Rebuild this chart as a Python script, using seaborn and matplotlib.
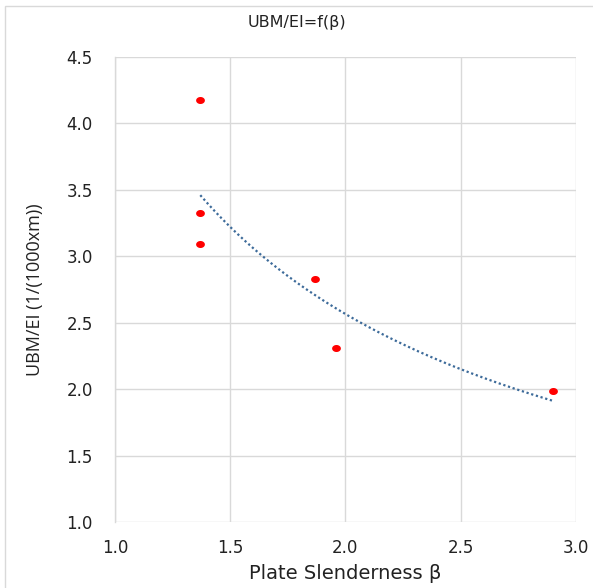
import numpy as np
import pandas as pd
import seaborn as sns
import matplotlib
matplotlib.use("Agg")
import matplotlib.pyplot as plt
from matplotlib.patches import Rectangle

beta = [1.37, 1.37, 1.37, 1.87, 1.96, 2.90]
ubm = [4.18, 3.33, 3.09, 2.83, 2.31, 1.99]
title = "UBM/EI=f(β)"
xlabel = "Plate Slenderness β"
ylabel = "UBM/EI (1/(1000xm))"
xticks = [1.0, 1.5, 2.0, 2.5, 3.0]
yticks = [1.0, 1.5, 2.0, 2.5, 3.0, 3.5, 4.0, 4.5]

df = pd.DataFrame({"beta": beta, "ubm": ubm})

# power trendline (fit of ln y on ln x)
b, lna = np.polyfit(np.log(df["beta"]), np.log(df["ubm"]), 1)
xs = np.linspace(min(beta), max(beta), 200)
trend = pd.DataFrame({"beta": xs, "ubm": np.exp(lna) * xs ** b})

sns.set_theme(style="white")
fig = plt.figure(figsize=(5.93, 5.88), dpi=100)
ax = fig.add_axes([0.194, 0.112, 0.777, 0.791])

# chart border
fig.patches.append(Rectangle((0.009, -0.01), 1.0, 1.0, transform=fig.transFigure,
                             fill=False, edgecolor="#d9d9d9", linewidth=1.0))

t = np.linspace(0, 2 * np.pi, 40)
ellipse = np.column_stack([1.25 * np.cos(t), np.sin(t)])

sns.lineplot(data=trend, x="beta", y="ubm", ax=ax, color="#3d6b9a",
             linestyle=(0, (1, 1.2)), linewidth=1.6, zorder=2)
sns.scatterplot(data=df, x="beta", y="ubm", ax=ax, color="#ff0000",
                s=40, marker=ellipse, edgecolor="#ff0000", linewidth=0, zorder=3)

ax.set_xlim(1.0, 3.0)
ax.set_ylim(1.0, 4.5)
ax.set_xticks(xticks)
ax.set_yticks(yticks)
ax.set_xticklabels([f"{v:.1f}" for v in xticks], fontsize=12, color="#222222", family="DejaVu Sans")
ax.set_yticklabels([f"{v:.1f}" for v in yticks], fontsize=12, color="#222222", family="DejaVu Sans")
ax.tick_params(axis="x", length=0, pad=12)
ax.tick_params(axis="y", length=0, pad=16)
ax.grid(True, color="#d9d9d9", linewidth=1.0)
for s in ["top", "right", "bottom"]:
    ax.spines[s].set_visible(False)
ax.spines["left"].set_color("#d9d9d9")
ax.spines["left"].set_linewidth(1.0)

ax.set_xlabel(xlabel, fontsize=14, family="DejaVu Sans", color="#222222", labelpad=5)
ax.set_ylabel(ylabel, fontsize=13, family="Open Sans", color="#222222", labelpad=16)
fig.text(0.5, 0.961, title, ha="center", va="center", fontsize=11.5, family="DejaVu Sans", color="#222222")

fig.savefig("out.png", dpi=100)
